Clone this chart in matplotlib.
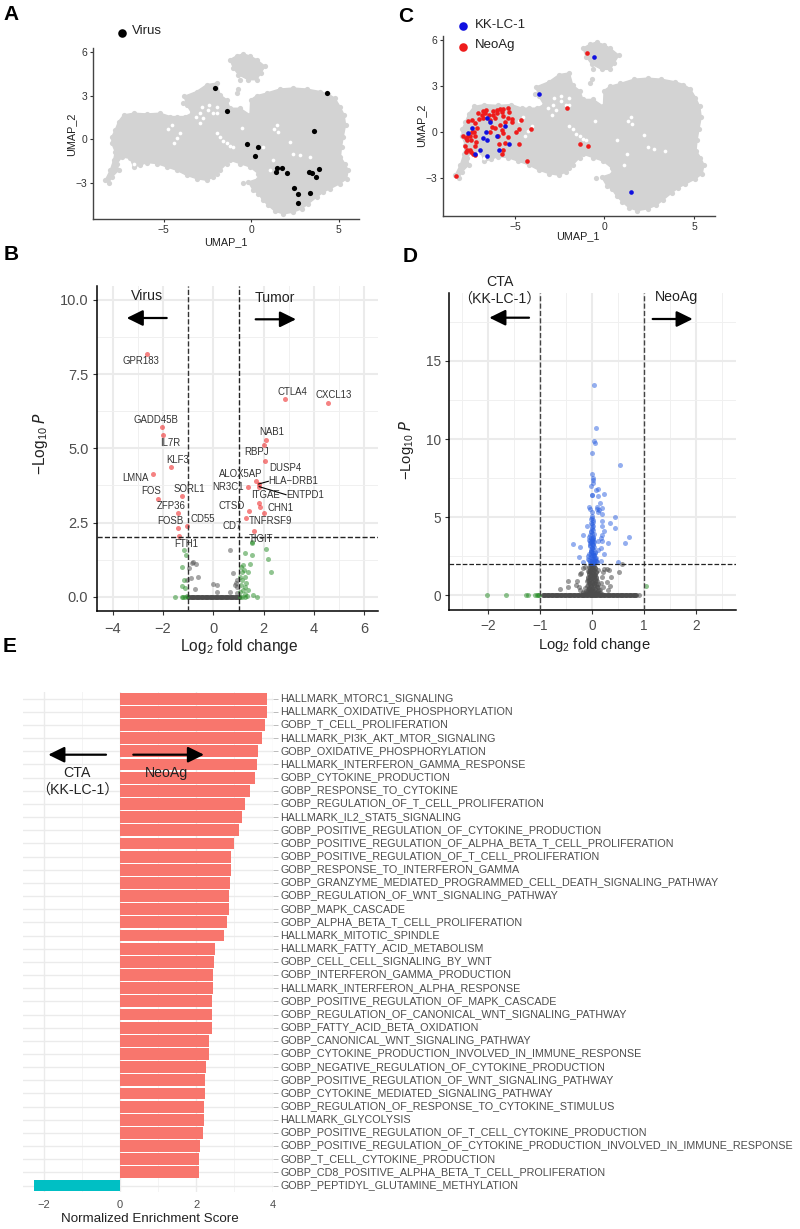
import matplotlib
matplotlib.use("Agg")
import matplotlib.pyplot as plt
from matplotlib.transforms import ScaledTranslation

plt.rcParams['font.family'] = ['Liberation Sans', 'Noto Sans CJK SC', 'DejaVu Sans']
plt.rcParams['mathtext.default'] = 'regular'

W, H = 800, 1229

# UMAP outline of the grey cells
cloud_x = [-8.33, -8.04, -7.85, -7.76, -7.95, -7.95, -7.76, -7.57, -7.28, -6.71, -5.95, -5.19, -4.62, -4.24, -3.76, -3.38,
           -3.67, -3.82, -3.10, -2.53, -1.96, -1.77, -1.39, -1.20, -0.63, -0.06, -0.02, 0.32, 0.89, 1.65, 2.41, 3.17, 3.94,
           4.41, 4.79, 5.08, 5.32, 5.40, 5.27, 5.17, 5.11, 5.36, 5.55, 5.46, 5.08, 4.51, 4.13, 3.75, 3.27, 2.89, 2.41, 1.84,
           1.37, 0.99, 0.70, 0.42, 0.42, -0.06, -0.63, -1.20, -1.77, -2.15, -2.53, -3.10, -3.67, -4.24, -4.81, -5.38, -5.95,
           -6.33, -6.71, -6.90, -7.38, -7.66, -7.57, -7.95, -8.14]
cloud_y = [-2.81, -2.12, -1.43, -0.85, -0.28, 0.18, 0.65, 1.22, 1.68, 1.80, 1.75, 1.80, 1.57, 1.57, 1.57, 1.80,
           2.37, 2.95, 3.29, 3.76, 3.87, 3.06, 2.72, 2.14, 2.14, 1.68, 2.72, 3.00, 3.18, 3.46, 3.53, 3.46, 3.29,
           3.11, 2.83, 2.26, 1.68, 0.99, 0.18, -0.51, -1.20, -1.66, -2.12, -2.70, -3.04, -3.39, -3.62, -3.96, -4.42, -4.77, -5.00, -5.12,
           -4.93, -4.54, -4.19, -3.73, -2.35, -1.89, -1.66, -1.43, -2.12, -2.58, -2.81, -2.70, -2.47, -2.12, -1.89, -1.66, -1.59,
           -1.77, -1.89, -1.31, -1.20, -1.66, -2.12, -2.58, -3.00]
top_blob_x = [-1.20, -0.80, -0.44, -0.05, 0.32, 0.80, 0.55, 0.32, -0.15, -0.72, -1.01]
top_blob_y = [5.48, 5.75, 5.88, 5.72, 5.48, 5.02, 4.55, 4.10, 4.10, 4.45, 4.91]
low_blob_x = [-0.15, 0.42, 0.70, 0.13]
low_blob_y = [-2.93, -2.70, -3.96, -3.50]
stray_x = [-3.90, -2.40, -1.87, -0.72, -0.82, -0.63, -2.82, -1.39, -1.96, -0.48]
stray_y = [2.50, 2.60, 2.21, 3.46, 3.18, 4.10, 1.68, -1.66, -2.35, -3.00]
hole_x = [-4.05, -4.43, -4.52, -1.77, -1.39, -1.01, -1.96, -0.53, 1.46, 1.56, 2.22, 2.41, 2.79, 1.27, 1.08, 3.36,
          -6.71, 0.70, -2.90, -2.44, -1.96, -2.91, -2.72, -2.43, -1.96, -2.81, -2.15, -3.15, -1.60, -1.20, -4.25, -4.75, 1.30]
hole_y = [0.41, -0.28, 0.99, 0.18, -0.28, -0.51, 0.41, 0.76, 0.99, 0.53, -0.16, -0.97, -1.08, -1.43, -2.12, -1.20,
          -1.66, -0.51, 1.80, 2.03, 1.80, 1.11, 1.45, 2.37, 2.26, 2.26, 1.80, 1.55, -0.10, -0.45, 0.10, 0.70, 0.70]

virus_x = [-2.05, -1.35, 4.33, 3.57, -0.23, 0.38, 0.23, 1.50, 1.75, 1.43, 2.05, 3.29, 3.50, 3.88, 3.73, 2.43, 2.66, 3.38, 2.70]
virus_y = [3.55, 1.94, 3.16, 0.55, -0.32, -0.53, -1.13, -1.96, -1.94, -2.21, -2.33, -2.21, -2.30, -2.00, -2.60, -3.34, -3.73, -3.66, -4.38]

kk_x = [-0.58, -3.67, 1.49, -6.55, -7.41, -7.64, -5.53, -6.59, -6.00, -6.76, -6.57, -5.34, -5.90, -6.93, -7.24, -6.55, -6.39]
kk_y = [4.92, 2.52, -3.90, 0.91, 0.30, -0.02, 0.39, 0.02, -0.28, -0.37, -0.54, -0.74, -1.13, -1.15, -1.45, -1.54, 0.69]
neo_x = [-0.99, -2.09, -1.38, -0.91, -4.30, -8.31, -4.10, -4.67, -4.75, -4.93, -4.79,
         -6.76, -6.61, -6.20, -6.01, -5.83, -5.64, -5.36, -5.31, -5.74, -6.01, -6.20, -6.67, -6.85, -7.04, -6.42, -5.64,
         -5.36, -5.18, -5.18, -7.60, -7.41, -7.23, -6.98, -6.76, -6.39, -6.11, -5.83, -5.55, -6.29, -6.39, -6.11, -5.74,
         -5.64, -5.92, -5.36, -7.13, -7.41, -7.60, -7.88, -7.73, -7.28, -7.50, -7.23, -7.47, -7.69, -7.17, -7.23, -7.78,
         -7.65, -7.50, -7.73, -7.47, -7.36, -7.23, -5.87, -5.55, -5.64, -5.74]
neo_y = [5.20, 1.58, -0.78, -0.91, -1.89, -2.86, 0.22, 0.78, 0.24, 0.04, -0.80,
         1.39, 1.45, 1.39, 1.45, 1.52, 1.52, 1.56, 1.34, 1.30, 1.23, 1.13, 1.23, 1.13, 1.23, 1.13, 1.08,
         0.91, 0.87, 0.69, 0.74, 0.80, 0.58, 0.87, 0.91, 0.80, 0.91, 0.48, 0.65, 0.37, 0.00, 0.26, 0.15,
         -0.06, -0.22, -0.32, 0.26, 0.04, -0.22, -0.28, -0.35, 0.00, -0.28, -0.28, -0.54, -0.50, -0.61, -0.89, -0.93,
         -1.15, -1.15, -1.30, -1.30, -1.43, -1.47, -0.78, -0.71, -1.15, -1.43]

# volcano Virus vs Tumor
b_red_x = [-2.62, 4.54, 2.86, -2.04, -2.00, 2.08, 2.00, 2.05, -1.67, -2.41, 1.68, 1.80, 1.83, 1.38, -1.23, -2.20, 1.80,
           1.85, 2.02, 1.43, -1.40, 1.28, -1.04, -1.40, 1.63, -1.36]
b_red_y = [8.18, 6.54, 6.66, 5.71, 5.45, 5.28, 5.11, 4.56, 4.36, 4.13, 3.89, 3.80, 3.71, 3.70, 3.39, 3.31, 3.17,
           3.02, 2.83, 2.88, 2.82, 2.64, 2.39, 2.30, 2.21, 2.04]
b_green_x = [-1.15, -1.10, -1.26, -1.16, -1.23, -1.12, -1.52, -1.26, -1.19, -1.12, -1.03,
             1.52, 1.53, 1.26, 1.55, 2.08, 2.28, 2.18, 1.46, 1.19, 1.08, 1.23, 1.12, 1.39, 1.06, 1.26, 1.12, 1.30,
             1.08, 1.26, 1.16, 1.39, 1.06, 1.26, 1.12, 1.26, 1.56, 1.72, 1.32, 1.06]
b_green_y = [1.58, 1.40, 0.99, 0.58, 0.36, 0.28, 0.00, 0.00, 0.00, 0.00, 0.02,
             1.81, 1.83, 1.47, 1.40, 1.60, 0.85, 1.28, 1.12, 1.07, 1.01, 0.90, 0.84, 0.84, 0.67, 0.65, 0.56, 0.47,
             0.39, 0.34, 0.22, 0.22, 0.17, 0.09, 0.00, 0.00, 0.06, 0.00, 0.02, 0.00]
b_grey_x = [-0.82, -0.70, -0.97, -0.89, -0.62, -1.03, -0.73, 0.00, 0.16, 0.16, 0.66, 0.79, 0.93, 0.90, 0.87, 0.95, 0.93, 0.66, -0.86]
b_grey_y = [1.16, 1.12, 0.96, 0.62, 0.66, 0.58, 0.25, 0.44, 0.39, 0.15, 1.57, 0.79, 0.56, 0.45, 0.39, 0.34, 0.13, 0.15, 1.15]
# the many genes sitting on P = 1
b_base_x = [-1.00, -0.95, -0.90, -0.85, -0.80, -0.75, -0.70, -0.65, -0.60, -0.55, -0.50, -0.45, -0.40, -0.35, -0.30, -0.25, -0.20,
            -0.15, -0.10, -0.05, 0.00, 0.05, 0.10, 0.15, 0.20, 0.25, 0.30, 0.35, 0.40, 0.45, 0.50, 0.55, 0.60, 0.65, 0.70, 0.75,
            0.80, 0.85, 0.90, 0.95, 1.00]

gene_names = ['GPR183', 'GADD45B', 'IL7R', 'KLF3', 'LMNA', 'FOS', 'SORL1', 'ZFP36', 'FOSB', 'CD55', 'FTH1',
              'CTLA4', 'CXCL13', 'NAB1', 'RBPJ', 'DUSP4', 'ALOX5AP', 'HLA\u2212DRB1', 'NR3C1', 'ITGAE', 'ENTPD1',
              'CTSD', 'CHN1', 'TNFRSF9', 'CD7', 'TIGIT']
# label centres in image pixels
gene_px = [141, 156, 170, 178, 135, 151, 189, 171, 170, 203, 186,
           292, 334, 272, 257, 285, 241, 293, 228, 266, 305,
           232, 281, 271, 232, 261]
gene_py = [361, 420, 443, 460, 478, 491, 489, 506, 521, 519, 544,
           392, 395, 432, 452, 468, 474, 481, 487, 495, 495,
           506, 508, 521, 526, 539]

# volcano CTA vs NeoAg
d_blue_x = [0.03, 0.07, 0.04, 0.05, 0.00, 0.54, 0.00, 0.02, 0.01, 0.01, -0.03, 0.11, 0.08, -0.01, 0.00, 0.11, 0.22, 0.15,
            -0.06, -0.04, 0.10, 0.09, 0.13, 0.19, 0.12, -0.01, 0.19, 0.43, 0.19, 0.35, 0.18, 0.44, -0.11, -0.17, 0.22,
            0.18, 0.16, 0.71, 0.63, 0.30, -0.37, -0.24, 0.19, 0.12, 0.16, 0.11, 0.22, -0.26, 0.50, -0.17, 0.08, 0.17,
            0.00, -0.02, 0.01, -0.01, 0.00, 0.02, -0.03, 0.00, 0.01, -0.02, -0.05, 0.02, 0.00, -0.04, 0.03, 0.01, -0.03, 0.02, -0.02,
            0.00, -0.06, 0.05, -0.01, 0.04, -0.04, 0.02, 0.00, -0.03, 0.03, 0.01, -0.02,
            -0.01, 0.01, -0.03, 0.02, 0.00, -0.02, 0.03, -0.04, 0.01, -0.01, 0.04, -0.05, 0.02, 0.00, -0.03, 0.05, -0.06, 0.03, -0.02, 0.01,
            0.06, -0.07, 0.00, 0.04, -0.04, 0.02, -0.02, 0.07, -0.08, 0.00, 0.05, -0.05, 0.03, -0.03, 0.01, -0.01, 0.08, -0.09, 0.09, -0.06]
d_blue_y = [13.43, 10.73, 9.87, 9.74, 9.08, 8.36, 7.74, 7.53, 7.38, 7.16, 6.99, 6.80, 6.74, 6.40, 6.40, 6.35, 6.46, 5.93,
            5.67, 5.52, 5.67, 5.52, 5.46, 5.59, 5.35, 5.35, 5.18, 5.01, 4.78, 4.61, 4.43, 4.29, 4.43, 3.86, 4.09,
            3.86, 3.65, 3.71, 3.33, 3.35, 3.28, 3.07, 3.50, 3.48, 3.00, 2.90, 2.64, 2.47, 2.15, 2.15, 2.20, 2.20,
            5.10, 4.90, 4.70, 4.55, 4.35, 4.20, 4.05, 3.90, 3.75, 3.65, 3.50, 3.45, 3.30, 3.25, 3.10, 2.95, 2.85, 2.70, 2.60,
            2.50, 3.55, 2.40, 2.30, 2.25, 2.20, 2.15, 2.10, 2.05, 2.05, 3.60, 3.40,
            4.95, 4.80, 4.60, 4.45, 4.25, 4.10, 3.95, 3.85, 3.70, 3.60, 3.40, 3.35, 3.20, 3.05, 2.90, 2.75, 2.65, 2.55, 2.45, 2.35,
            2.30, 2.25, 2.20, 2.15, 2.10, 2.60, 2.80, 2.40, 2.50, 3.00, 2.70, 3.15, 2.60, 2.75, 3.30, 3.50, 2.20, 2.35, 2.15, 3.75]
d_green_x = [-2.03, -1.65, -1.28, -1.23, -1.10, -1.07, -1.05, -1.03, 1.04]
d_green_y = [0, 0, 0, 0, 0, 0, 0, 0, 0.62]
d_grey_x = [0.58, 0.51, 0.37, 0.28, 0.33, 0.22, 0.29, 0.34, 0.31, -0.46, -0.46, -0.62, -0.30, -0.32, -0.26, -0.21, -0.24, -0.17, -0.14,
            -0.24, -0.17, 0.18, 0.16, 0.20, 0.21, 0.12, 0.12, 0.15, 0.90,
            0.00, -0.03, 0.03, -0.05, 0.05, 0.00, -0.04, 0.04, -0.07, 0.07, 0.00, -0.06, 0.06, -0.03, 0.03, -0.08, 0.08, 0.00,
            -0.05, 0.05, -0.09, 0.09, 0.00, -0.07, 0.07, -0.04, 0.04, -0.10, 0.10, 0.00, -0.06, 0.06, -0.03, 0.03, -0.12, 0.12, 0.00,
            -0.08, 0.08, -0.14, 0.14, -0.05, 0.05, -0.10, 0.10, 0.00, -0.16, 0.16,
            -0.02, 0.02, -0.06, 0.06, 0.00, -0.04, 0.04, -0.08, 0.08, -0.02, 0.02, -0.06, 0.06, 0.00, -0.04, 0.04, -0.08, 0.08, -0.02, 0.02,
            -0.06, 0.06, 0.00, -0.04, 0.04, -0.09, 0.09, -0.02, 0.02, -0.06, 0.06, 0.00, -0.04, 0.04, -0.10, 0.10, -0.02, 0.02, -0.07, 0.07,
            0.00, -0.04, 0.04, -0.11, 0.11, -0.02, 0.02, -0.07, 0.07, 0.00, -0.13, 0.13, -0.04, 0.04, -0.09, 0.09, -0.18, 0.18, -0.02, 0.02]
d_grey_y = [1.98, 1.47, 1.19, 1.68, 1.62, 1.66, 0.87, 0.62, 0.34, 0.94, 0.53, 0.43, 0.94, 0.66, 0.55, 1.41, 1.36, 1.73, 1.79,
            0.34, 0.23, 1.19, 0.77, 1.51, 0.55, 1.62, 0.55, 0.34, 0.00,
            1.95, 1.90, 1.85, 1.80, 1.75, 1.70, 1.65, 1.60, 1.55, 1.50, 1.45, 1.40, 1.35, 1.30, 1.25, 1.20, 1.15, 1.10,
            1.05, 1.00, 0.95, 0.90, 0.85, 0.80, 0.75, 0.70, 0.65, 0.60, 0.55, 0.50, 0.45, 0.40, 0.35, 0.30, 0.30, 0.25, 0.20,
            0.20, 0.15, 0.15, 0.12, 0.10, 0.10, 0.06, 0.06, 0.05, 0.05, 0.03,
            1.92, 1.88, 1.82, 1.78, 1.72, 1.68, 1.62, 1.58, 1.52, 1.48, 1.42, 1.38, 1.32, 1.28, 1.22, 1.18, 1.12, 1.08, 1.02, 0.98,
            0.92, 0.88, 0.82, 0.78, 0.72, 0.68, 0.62, 0.58, 0.52, 0.48, 0.42, 0.38, 0.32, 0.28, 0.22, 0.18, 0.12, 0.08, 0.15, 0.10,
            1.10, 1.50, 1.30, 0.90, 0.70, 0.60, 1.60, 0.40, 1.00, 0.25, 0.50, 0.35, 1.20, 0.80, 0.35, 0.20, 0.12, 0.08, 0.05, 0.04]
# the many genes sitting on P = 1
d_base_x = [-0.95, -0.925, -0.90, -0.875, -0.85, -0.825, -0.80, -0.775, -0.75, -0.725, -0.70, -0.675, -0.65, -0.625, -0.60,
            -0.575, -0.55, -0.525, -0.50, -0.475, -0.45, -0.425, -0.40, -0.375, -0.35, -0.325, -0.30, -0.275, -0.25, -0.225,
            -0.20, -0.175, -0.15, -0.125, -0.10, -0.075, -0.05, -0.025, 0.00, 0.025, 0.05, 0.075, 0.10, 0.125, 0.15, 0.175,
            0.20, 0.225, 0.25, 0.275, 0.30, 0.325, 0.35, 0.375, 0.40, 0.425, 0.45, 0.475, 0.50, 0.525, 0.55, 0.575, 0.60,
            0.625, 0.65, 0.675, 0.70, 0.725, 0.75, 0.775, 0.80, 0.825, 0.85]

# enrichment
pathways = ['HALLMARK_MTORC1_SIGNALING', 'HALLMARK_OXIDATIVE_PHOSPHORYLATION', 'GOBP_T_CELL_PROLIFERATION',
            'HALLMARK_PI3K_AKT_MTOR_SIGNALING', 'GOBP_OXIDATIVE_PHOSPHORYLATION', 'HALLMARK_INTERFERON_GAMMA_RESPONSE',
            'GOBP_CYTOKINE_PRODUCTION', 'GOBP_RESPONSE_TO_CYTOKINE', 'GOBP_REGULATION_OF_T_CELL_PROLIFERATION',
            'HALLMARK_IL2_STAT5_SIGNALING', 'GOBP_POSITIVE_REGULATION_OF_CYTOKINE_PRODUCTION',
            'GOBP_POSITIVE_REGULATION_OF_ALPHA_BETA_T_CELL_PROLIFERATION', 'GOBP_POSITIVE_REGULATION_OF_T_CELL_PROLIFERATION',
            'GOBP_RESPONSE_TO_INTERFERON_GAMMA', 'GOBP_GRANZYME_MEDIATED_PROGRAMMED_CELL_DEATH_SIGNALING_PATHWAY',
            'GOBP_REGULATION_OF_WNT_SIGNALING_PATHWAY', 'GOBP_MAPK_CASCADE', 'GOBP_ALPHA_BETA_T_CELL_PROLIFERATION',
            'HALLMARK_MITOTIC_SPINDLE', 'HALLMARK_FATTY_ACID_METABOLISM', 'GOBP_CELL_CELL_SIGNALING_BY_WNT',
            'GOBP_INTERFERON_GAMMA_PRODUCTION', 'HALLMARK_INTERFERON_ALPHA_RESPONSE', 'GOBP_POSITIVE_REGULATION_OF_MAPK_CASCADE',
            'GOBP_REGULATION_OF_CANONICAL_WNT_SIGNALING_PATHWAY', 'GOBP_FATTY_ACID_BETA_OXIDATION',
            'GOBP_CANONICAL_WNT_SIGNALING_PATHWAY', 'GOBP_CYTOKINE_PRODUCTION_INVOLVED_IN_IMMUNE_RESPONSE',
            'GOBP_NEGATIVE_REGULATION_OF_CYTOKINE_PRODUCTION', 'GOBP_POSITIVE_REGULATION_OF_WNT_SIGNALING_PATHWAY',
            'GOBP_CYTOKINE_MEDIATED_SIGNALING_PATHWAY', 'GOBP_REGULATION_OF_RESPONSE_TO_CYTOKINE_STIMULUS',
            'HALLMARK_GLYCOLYSIS', 'GOBP_POSITIVE_REGULATION_OF_T_CELL_CYTOKINE_PRODUCTION',
            'GOBP_POSITIVE_REGULATION_OF_CYTOKINE_PRODUCTION_INVOLVED_IN_IMMUNE_RESPONSE', 'GOBP_T_CELL_CYTOKINE_PRODUCTION',
            'GOBP_CD8_POSITIVE_ALPHA_BETA_T_CELL_PROLIFERATION', 'GOBP_PEPTIDYL_GLUTAMINE_METHYLATION']
nes = [3.85, 3.85, 3.81, 3.73, 3.61, 3.58, 3.53, 3.41, 3.27, 3.21, 3.11, 2.98, 2.92, 2.92, 2.88, 2.87, 2.85, 2.80, 2.72,
       2.49, 2.46, 2.43, 2.43, 2.41, 2.41, 2.40, 2.34, 2.34, 2.26, 2.24, 2.23, 2.19, 2.19, 2.18, 2.10, 2.07, 2.07, -2.24]

fig = plt.figure(figsize=(W / 100, H / 100), dpi=100)


def ax_px(left, top, right, bottom):
    return fig.add_axes([left / W, 1 - bottom / H, (right - left) / W, (bottom - top) / H])


# overlay in image pixels for letters, arrows and legends
ov = fig.add_axes([0, 0, 1, 1], zorder=10)
ov.set_xlim(0, W)
ov.set_ylim(H, 0)
ov.axis('off')


def arrow(x0, y0, x1, y1):
    ov.annotate('', xy=(x1, y0), xytext=(x0, y0),
                arrowprops=dict(arrowstyle='-|>,head_length=0.65,head_width=0.32', color='black', lw=1.6,
                                mutation_scale=15, shrinkA=0, shrinkB=0))


def draw_cloud(ax):
    ax.fill(cloud_x, cloud_y, color='#D3D3D3', lw=1, zorder=1)
    ax.fill(top_blob_x, top_blob_y, color='#D3D3D3', lw=1, zorder=1)
    ax.fill(low_blob_x, low_blob_y, color='#D3D3D3', lw=1, zorder=1)
    ax.scatter(cloud_x + top_blob_x + low_blob_x + stray_x, cloud_y + top_blob_y + low_blob_y + stray_y,
               s=14, color='#D3D3D3', lw=0, zorder=1)
    ax.scatter(hole_x, hole_y, s=7, color='white', lw=0, zorder=2)


def style_umap(ax, xlab, ylab):
    ax.set_xlim(-9.03, 6.17)
    ax.set_ylim(-5.47, 6.28)
    ax.set_xticks([-5, 0, 5], ['\u22125', '0', '5'])
    ax.set_yticks([-3, 0, 3, 6], ['\u22123', '0', '3', '6'])
    ax.tick_params(labelsize=7.5, length=2.5, width=0.8, color='#333333', labelcolor='#333333', pad=1.5)
    for s in ['top', 'right']:
        ax.spines[s].set_visible(False)
    for s in ['left', 'bottom']:
        ax.spines[s].set_color('#444444')
        ax.spines[s].set_linewidth(1.0)
    ax.set_xlabel('UMAP_1', fontsize=7.8, va='center', color='#222222')
    ax.set_ylabel('UMAP_2', fontsize=7.8, va='center', color='#222222')
    ax.xaxis.set_label_coords(xlab[0], xlab[1], transform=ov.transData)
    ax.yaxis.set_label_coords(ylab[0], ylab[1], transform=ov.transData)


def style_volcano(ax, xmajor, xminor, ymajor, ylabels, yminor, fs, xpad):
    ax.set_xticks(xmajor)
    ax.set_xticks(xminor, minor=True)
    ax.set_yticks(ymajor, ylabels)
    ax.set_yticks(yminor, minor=True)
    ax.grid(which='major', color='#EBEBEB', lw=1.5)
    ax.grid(which='minor', color='#F0F0F0', lw=0.7)
    ax.set_axisbelow(True)
    ax.tick_params(which='minor', length=0)
    ax.tick_params(which='major', labelsize=fs, length=3, width=0.8, color='#333333', labelcolor='#4D4D4D', pad=3)
    ax.tick_params(axis='x', which='major', pad=xpad)
    for s in ['top', 'right']:
        ax.spines[s].set_visible(False)
    for s in ['left', 'bottom']:
        ax.spines[s].set_linewidth(1.1)


# A
ax_a = ax_px(93, 48, 359, 219)
draw_cloud(ax_a)
ax_a.scatter(virus_x, virus_y, s=14, color='black', lw=0, zorder=3)
style_umap(ax_a, (225.7, 241.7), (71.7, 134))
ov.scatter([121.7], [33], s=38, color='black', lw=0)
ov.text(131.7, 31, 'Virus', fontsize=9.5, va='center', color='#222222')

# C
ax_c = ax_px(442.7, 36, 715, 216)
draw_cloud(ax_c)
ax_c.scatter(neo_x, neo_y, s=11, color='#EE1C1C', lw=0, zorder=3)
ax_c.scatter(kk_x, kk_y, s=11, color='#1010E0', lw=0, zorder=4)
style_umap(ax_c, (578, 236), (421, 125))
ov.scatter([463.3], [25.7], s=38, color='#1010E0', lw=0)
ov.scatter([463.3], [47.3], s=38, color='#EE1C1C', lw=0)
ov.text(475, 25.3, 'KK-LC-1', fontsize=9.5, va='center', color='#222222')
ov.text(475.3, 45, 'NeoAg', fontsize=9.5, va='center', color='#222222')

# B
ax_b = ax_px(96.7, 286, 378.3, 611.3)
ax_b.set_xlim(-4.63, 6.55)
ax_b.set_ylim(-0.49, 10.47)
style_volcano(ax_b, [-4, -2, 0, 2, 4, 6], [-3, -1, 1, 3, 5], [0, 2.5, 5, 7.5, 10],
              ['0.0', '2.5', '5.0', '7.5', '10.0'], [1.25, 3.75, 6.25, 8.75], 10.5, 5)
ax_b.scatter(b_base_x, [0] * len(b_base_x), s=13, color='#4D4D4D', alpha=0.8, lw=0, zorder=3)
ax_b.scatter(b_grey_x, b_grey_y, s=13, color='#4D4D4D', alpha=0.5, lw=0, zorder=3)
ax_b.scatter(b_green_x, b_green_y, s=13, color='#228B22', alpha=0.5, lw=0, zorder=3)
ax_b.scatter(b_red_x, b_red_y, s=13, color='#EE1C1C', alpha=0.55, lw=0, zorder=3)
ax_b.axvline(-1, color='#333333', ls='--', lw=1.0, zorder=4)
ax_b.axvline(1, color='#222222', ls='--', lw=1.0, zorder=4)
ax_b.axhline(2, color='#222222', ls='--', lw=1.0, zorder=4)
ax_b.set_xlabel('Log$_{2}$ fold change', fontsize=11.2, va='center', color='#222222')
ax_b.set_ylabel('$-$Log$_{10}$ $\\mathit{P}$', fontsize=11.2, va='center', color='#222222')
ax_b.xaxis.set_label_coords(239.3, 646, transform=ov.transData)
ax_b.yaxis.set_label_coords(41, 443, transform=ov.transData)
for name, gx, gy in zip(gene_names, gene_px, gene_py):
    ov.text(gx, gy, name, fontsize=6.9, ha='center', va='center', color='#333333')
ov.plot([258.7, 268.3], [484, 481.3], color='black', lw=0.8)
ov.plot([259.3, 286], [486.7, 494.7], color='black', lw=0.8)
arrow(166.7, 318, 126.7, 318)
arrow(255.7, 319.3, 296, 319.3)
ov.text(146.7, 296, 'Virus', fontsize=10.2, ha='center', va='center', color='#222222')
ov.text(275, 297.7, 'Tumor', fontsize=10.2, ha='center', va='center', color='#222222')

# D
ax_d = ax_px(449.3, 293.3, 735.7, 609.7)
ax_d.set_xlim(-2.75, 2.76)
ax_d.set_ylim(-0.92, 19.33)
style_volcano(ax_d, [-2, -1, 0, 1, 2], [-2.5, -1.5, -0.5, 0.5, 1.5, 2.5], [0, 5, 10, 15],
              ['0', '5', '10', '15'], [2.5, 7.5, 12.5, 17.5], 9.8, 4)
ax_d.scatter(d_base_x, [0] * len(d_base_x), s=13, color='#4D4D4D', alpha=0.8, lw=0, zorder=3)
ax_d.scatter(d_grey_x, d_grey_y, s=13, color='#4D4D4D', alpha=0.55, lw=0, zorder=3)
ax_d.scatter(d_green_x, d_green_y, s=13, color='#228B22', alpha=0.5, lw=0, zorder=3)
ax_d.scatter(d_blue_x, d_blue_y, s=13, color='#2A5FE0', alpha=0.5, lw=0, zorder=3)
ax_d.axvline(-1, color='#444444', ls='--', lw=1.0, zorder=4)
ax_d.axvline(1, color='#444444', ls='--', lw=1.0, zorder=4)
ax_d.axhline(2, color='#222222', ls='--', lw=0.9, zorder=4)
ax_d.set_xlabel('Log$_{2}$ fold change', fontsize=10.6, va='center', color='#222222')
ax_d.set_ylabel('$-$Log$_{10}$ $\\mathit{P}$', fontsize=10.6, va='center', color='#222222')
ax_d.xaxis.set_label_coords(594, 645, transform=ov.transData)
ax_d.yaxis.set_label_coords(407, 450, transform=ov.transData)
arrow(529, 317.7, 489.3, 317.7)
arrow(652.7, 319, 692.7, 319)
ov.text(499.7, 281.7, 'CTA', fontsize=10.2, ha='center', va='center', color='#222222')
ov.text(499.3, 298.3, '\uff08KK-LC-1\uff09', fontsize=10.2, ha='center', va='center', color='#222222')
ov.text(677, 297, 'NeoAg', fontsize=10.2, ha='center', va='center', color='#222222')

# E
ax_e = ax_px(23, 692, 273, 1192)
rows = list(range(len(pathways)))
colors = ['#F8766D' if v > 0 else '#00BFC4' for v in nes]
ax_e.barh(rows, nes, height=0.9, color=colors, zorder=3)
ax_e.set_xlim(-2.54, 4.01)
ax_e.set_ylim(37.49, -0.51)
ax_e.set_xticks([-2, 0, 2, 4], ['\u22122', '0', '2', '4'])
ax_e.set_xticks([-1, 1, 3], minor=True)
ax_e.yaxis.tick_right()
ax_e.set_yticks(rows, pathways)
ax_e.grid(which='major', color='#EBEBEB', lw=1.0)
ax_e.grid(which='minor', axis='x', color='#F2F2F2', lw=0.6)
ax_e.set_axisbelow(True)
ax_e.tick_params(axis='x', which='both', length=0, labelsize=8, labelcolor='#4D4D4D', pad=5.5)
ax_e.tick_params(axis='y', length=3.4, width=0.7, color='#BBBBBB', labelsize=7.72, labelcolor='#4D4D4D', pad=2)
lift = ScaledTranslation(0, 1.5 / 100, fig.dpi_scale_trans)
for lab in ax_e.get_yticklabels():
    lab.set_transform(lab.get_transform() + lift)
for s in ax_e.spines.values():
    s.set_visible(False)
ax_e.set_xlabel('Normalized Enrichment Score', fontsize=9.6, va='center', color='#222222')
ax_e.xaxis.set_label_coords(150.3, 1219, transform=ov.transData)
arrow(106, 754.7, 48.3, 754.7)
arrow(133.3, 754.7, 204, 754.7)
ov.text(77, 772.7, 'CTA', fontsize=10.2, ha='center', va='center', color='#222222')
ov.text(77, 790, '\uff08KK-LC-1\uff09', fontsize=10.2, ha='center', va='center', color='#222222')
ov.text(166.3, 772.7, 'NeoAg', fontsize=10.2, ha='center', va='center', color='#222222')

# panel letters
for letter, lx, ly in [('A', 11, 15), ('B', 11, 254), ('C', 406, 17), ('D', 410, 256), ('E', 10, 646)]:
    ov.text(lx, ly, letter, fontsize=15, fontweight='bold', ha='center', va='center', color='black')

fig.savefig('out.png', dpi=100, facecolor='white')
